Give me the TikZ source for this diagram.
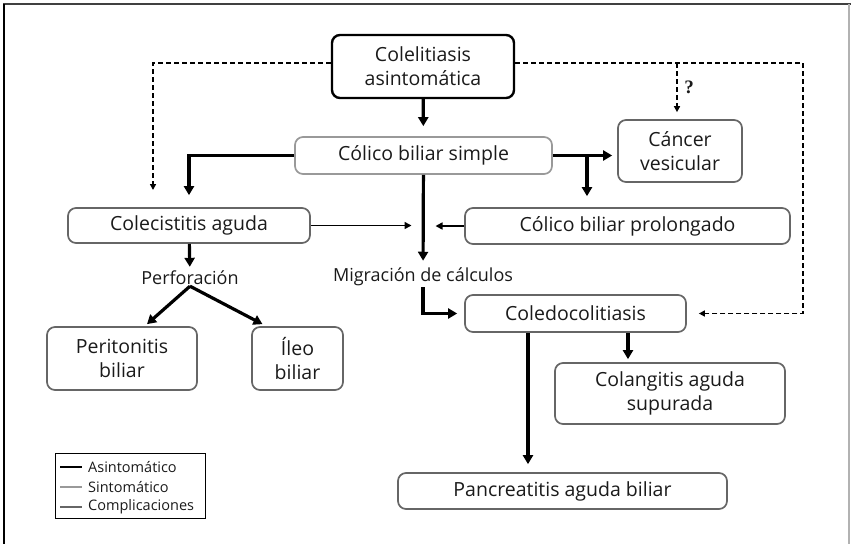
\documentclass[tikz,border=0pt]{standalone}
\usepackage{fontspec}
\setmainfont{Open Sans}
\newfontfamily\qfont{Liberation Serif}
\usetikzlibrary{arrows.meta,positioning}
\definecolor{txt}{HTML}{1A1A1A}
\definecolor{cmpl}{HTML}{666666}
\definecolor{sint}{HTML}{999999}

\begin{document}
\begin{tikzpicture}[x=1pt, y=-1pt,
  font=\fontsize{19.5}{24}\selectfont,
  box/.style={draw=cmpl, line width=1.7pt, rounded corners=8pt, align=center, inner sep=0pt, text=txt},
  lbl/.style={inner sep=1pt, text=txt, font=\fontsize{18}{20}\selectfont},
  thk/.style={-{Triangle[length=9pt,width=10pt]}, line width=3.2pt},
  thn/.style={-{Triangle[length=7pt,width=7pt]}, line width=1.6pt},
  dsh/.style={-{Triangle[length=6pt,width=6pt]}, line width=1.7pt, dash pattern=on 5pt off 3pt}
]
\useasboundingbox (0,0) rectangle (851,544);
\draw[line width=2pt, black!75] (3,4) -- (851,4);
\draw[line width=1.5pt] (4,4) -- (4,544);
\draw[line width=1.5pt, black!30] (849,4) -- (849,544);

\node[box, draw=black, line width=2.4pt, minimum width=182pt, minimum height=63pt] (asin) at (423,66.5) {Colelitiasis\\asintomática};
\node[box, draw=sint, minimum width=257pt, minimum height=37pt] (simple) at (423.5,155.5) {Cólico biliar simple};
\node[box, minimum width=124pt, minimum height=62pt] (cancer) at (680,151) {Cáncer\\vesicular};
\node[box, minimum width=242pt, minimum height=35pt] (colec) at (189,225.5) {Colecistitis aguda};
\node[box, minimum width=325pt, minimum height=36pt] (prolong) at (627.5,226) {Cólico biliar prolongado};
\node[lbl] (migr) at (423,277) {Migración de cálculos};
\node[lbl] (perf) at (190,278) {Perforación};
\node[box, minimum width=221pt, minimum height=37pt] (coledo) at (575.5,313.5) {Coledocolitiasis};
\node[box, minimum width=150pt, minimum height=63pt] (perit) at (122,358.5) {Peritonitis\\biliar};
\node[box, minimum width=91pt, minimum height=63pt] (ileo) at (297.5,358.5) {Íleo\\biliar};
\node[box, minimum width=230pt, minimum height=61pt] (colang) at (670,393.5) {Colangitis aguda\\supurada};
\node[box, minimum width=329pt, minimum height=36pt] (pancr) at (562.5,491) {Pancreatitis aguda biliar};

\coordinate (dl) at (153,63);
\coordinate (dlend) at (153,190);
\coordinate (dr) at (803,63);
\coordinate (dq) at (677,63);
\coordinate (brc) at (587,155.5);

\draw[thk, shorten >=10pt] (asin) -- (simple);
\draw[thk, shorten >=12pt] (simple) -| (colec);
\draw[thk, shorten >=5pt] (simple.east) -- (simple.east -| cancer.west);
\draw[thk, shorten >=11pt] (brc) -- (brc |- prolong.north);
\draw[thk, shorten >=6pt] (simple) -- (migr);
\draw[thk, shorten >=7pt] (migr) |- (coledo);
\draw[thn, shorten >=12pt] (colec) -- (colec -| simple);
\draw[thn, shorten >=12pt] (prolong) -- (prolong -| simple);
\draw[thk, shorten >=3pt] (colec) -- (perf);
\draw[thk] (perf.south) -- ([xshift=25pt,yshift=2pt]perit.north);
\draw[thk] (perf.south) -- ([xshift=-35pt,yshift=2pt]ileo.north);
\draw[thk, shorten >=3pt] ([xshift=52.5pt]coledo.south) -- ([xshift=52.5pt]coledo.south |- colang.north);
\draw[thk, shorten >=8pt] ([xshift=-47.5pt]coledo.south) -- ([xshift=-47.5pt]coledo.south |- pancr.north);

\draw[dsh] (asin.west |- dl) -- (dl) -- (dlend);
\draw[dsh, shorten >=12pt] (asin.east |- dr) -- (dr) |- (coledo);
\draw[dsh, shorten >=7pt] (dq) -- (dq |- cancer.north);
\node[font=\qfont\bfseries\fontsize{19}{20}\selectfont, text=txt] (q) at (689,87) {?};

\node[draw, line width=0.9pt, minimum width=150pt, minimum height=65pt, inner sep=0pt] (leg) at (130,485.5) {};
\node[lbl, anchor=west, font=\fontsize{14.5}{16}\selectfont] (la) at (87,467) {Asintomático};
\node[lbl, anchor=west, font=\fontsize{14.5}{16}\selectfont] (ls) at (87,487) {Sintomático};
\node[lbl, anchor=west, font=\fontsize{14.5}{16}\selectfont] (lc) at (87,507) {Complicaciones};
\draw[line width=2.2pt] (60,467) -- (82,467);
\draw[line width=2.2pt, sint] (60,487) -- (82,487);
\draw[line width=2.2pt, cmpl] (60,507) -- (82,507);
\end{tikzpicture}
\end{document}
